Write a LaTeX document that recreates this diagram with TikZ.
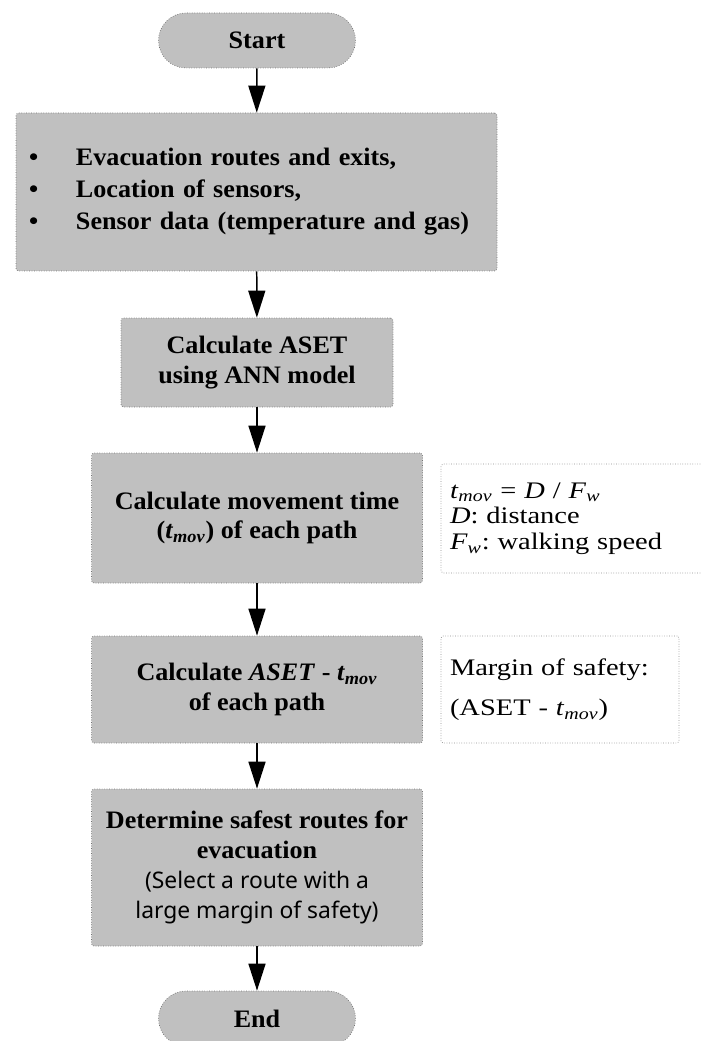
\documentclass[tikz,border=0pt]{standalone}
\usepackage{fontspec}
\setmainfont{Liberation Serif}[FakeStretch=1.04]
\newfontfamily\notefont{Liberation Serif}[FakeStretch=1.2]
\newfontfamily\remarkfont{Noto Sans}
\usepackage{tikz}
\usepackage{xcolor}
\usetikzlibrary{arrows.meta}
\definecolor{boxgray}{RGB}{192,192,192}
\newcommand{\tmov}{\textit{t}\textsubscript{\textit{mov}}}
\newcommand{\fw}{\textit{F}\textsubscript{\textit{w}}}
\newcommand{\remark}[1]{{\remarkfont\mdseries\fontsize{13}{17}\selectfont #1}}

\begin{document}
\begin{tikzpicture}[
    box/.style={draw=black!55, densely dotted, fill=boxgray, rounded corners=1.5pt, align=center, inner sep=0pt, font=\fontsize{14.3}{17}\selectfont\bfseries},
    term/.style={box, rounded corners=0.55cm, minimum width=3.94cm, minimum height=1.1cm},
    note/.style={draw=black!45, densely dotted, fill=white, rounded corners=1pt, align=left, inner xsep=0.18cm, inner ysep=0pt, font=\notefont\fontsize{13.5}{14.6}\selectfont\frenchspacing},
    arrow/.style={-{Triangle[length=0.54cm, width=0.34cm]}, line width=0.85pt}
]
\useasboundingbox (0,0) rectangle (14.02,-20.82);

% Start
\node[term] (start) at (5.14,-0.81) {Start};

% Input data
\node[box, minimum width=9.62cm, minimum height=3.16cm, text width=9.1cm, align=left, font=\fontsize{14.3}{18.2}\selectfont\bfseries] (input) at (5.13,-3.84)
    {\makebox[0.94cm][l]{\textbullet}Evacuation routes and exits,\\
     \makebox[0.94cm][l]{\textbullet}Location of sensors,\\
     \makebox[0.94cm][l]{\textbullet}Sensor data (temperature and gas)};

% ASET
\node[box, minimum width=5.44cm, minimum height=1.78cm] (aset) at (5.14,-7.25) {Calculate ASET\\using ANN model};

% Movement time
\node[box, minimum width=6.62cm, minimum height=2.6cm] (move) at (5.14,-10.36) {Calculate movement time\\(\tmov) of each path};

% Margin
\node[box, minimum width=6.62cm, minimum height=2.14cm] (margin) at (5.14,-13.79) {Calculate \textit{ASET} - \tmov\\of each path};

% Safest route
\node[box, minimum width=6.62cm, minimum height=3.14cm] (route) at (5.14,-17.35)
    {Determine safest routes for\\evacuation\\\remark{(Select a route with a}\\\remark{large margin of safety)}};

% End
\node[term] (end) at (5.14,-20.37) {End};

% Notes
\node[note, minimum width=5.42cm, minimum height=2.18cm, text width=5.06cm] (formula) at (11.53,-10.37)
    {\tmov{} = \textit{D} / \fw\\\textit{D}: distance\\\fw: walking speed};
\node[note, minimum width=4.76cm, minimum height=2.14cm, text width=4.4cm, font=\notefont\fontsize{13.5}{22.8}\selectfont\frenchspacing] (safety) at (11.2,-13.79)
    {Margin of safety:\\(ASET - \tmov)};

% Arrows
\draw[arrow] (start) -- (input);
\draw[arrow] (input) -- (aset);
\draw[arrow] (aset) -- (move);
\draw[arrow] (move) -- (margin);
\draw[arrow] (margin) -- (route);
\draw[arrow] (route) -- (end);

\end{tikzpicture}
\end{document}
